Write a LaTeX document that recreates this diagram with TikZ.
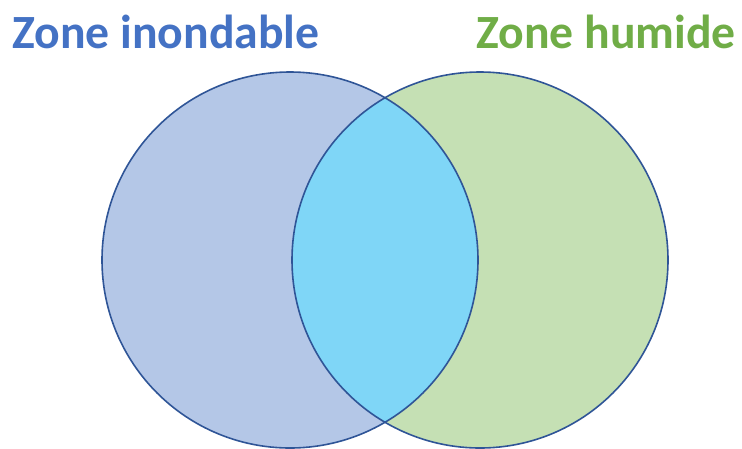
\documentclass[tikz,border=0pt]{standalone}
\usepackage{fontspec}
\setmainfont{Carlito}
\begin{document}
\begin{tikzpicture}[
    x=1pt, y=-1pt,
    zone/.style={circle, minimum size=376pt, inner sep=0pt},
    rim/.style={draw=zonerim, line width=1.6pt},
    title/.style={inner sep=0pt, font=\fontsize{47.7}{52}\selectfont\bfseries}]
  \definecolor{zonerim}{HTML}{2F5597}
  \definecolor{bleu}{HTML}{B4C7E7}
  \definecolor{vert}{HTML}{C5E0B4}
  \definecolor{ciel}{HTML}{7FD6F7}
  \definecolor{titrebleu}{HTML}{4472C4}
  \definecolor{titrevert}{HTML}{70AD47}
  \useasboundingbox (0,0) rectangle (742,448);
  % les deux zones
  \node[zone, fill=bleu] (inondable) at (290,260) {};
  \node[zone, fill=vert] (humide) at (480,260) {};
  % intersection
  \begin{scope}
    \clip (inondable.center) circle (188pt);
    \fill[ciel] (humide.center) circle (188pt);
  \end{scope}
  \node[zone, rim] at (inondable.center) {};
  \node[zone, rim] at (humide.center) {};
  % titres
  \node[title, text=titrebleu, anchor=base west] (titreinondable) at (12,48) {Zone inondable};
  \node[title, text=titrevert, anchor=base east] (titrehumide) at (736,48) {Zone humide};
\end{tikzpicture}
\end{document}
